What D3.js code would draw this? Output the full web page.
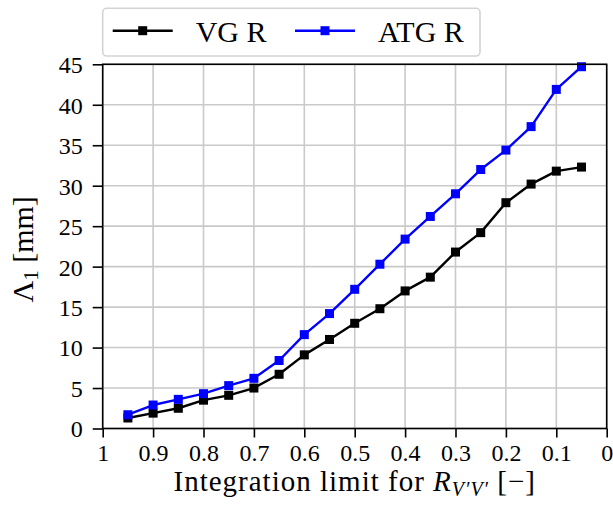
<!DOCTYPE html>
<html>
<head>
<meta charset="utf-8">
<script src="https://cdn.jsdelivr.net/npm/d3@7"></script>
<style>
  body { margin: 0; background: #fff; }
  svg { display: block; font-family: "Liberation Serif", "DejaVu Serif", serif; }
</style>
</head>
<body>
<div id="chart"></div>
<script>
// integration limits (x) and the two series
const limits = [0.95, 0.9, 0.85, 0.8, 0.75, 0.7, 0.65, 0.6, 0.55, 0.5, 0.45, 0.4, 0.35, 0.3, 0.25, 0.2, 0.15, 0.1, 0.05];
const vgR = [1.3, 1.9, 2.5, 3.5, 4.1, 5.0, 6.7, 9.1, 11.0, 13.0, 14.8, 17.0, 18.7, 21.8, 24.2, 27.9, 30.2, 31.8, 32.3];
const atgR = [1.7, 2.9, 3.6, 4.3, 5.3, 6.2, 8.4, 11.6, 14.2, 17.2, 20.3, 23.4, 26.2, 29.0, 32.0, 34.4, 37.3, 41.9, 44.7];
const xTicks = [1, 0.9, 0.8, 0.7, 0.6, 0.5, 0.4, 0.3, 0.2, 0.1, 0];
const yTicks = [0, 5, 10, 15, 20, 25, 30, 35, 40, 45];
const seriesNames = ['VG R', 'ATG R'];
const seriesColors = ['#000000', '#0000ff'];

const width = 613;
const height = 508;
const margin = { top: 64.3, right: 6.3, bottom: 79.5, left: 102.7 };

const svg = d3.select('#chart')
  .append('svg')
  .attr('width', width)
  .attr('height', height);

const xScale = d3.scaleLinear()
  .domain([1, 0])
  .range([margin.left, width - margin.right]);

const yScale = d3.scaleLinear()
  .domain([0, 45])
  .range([height - margin.bottom, margin.top]);

const gridColor = '#c9c9c9';

// gridlines
svg.append('g')
  .selectAll('line')
  .data(xTicks)
  .join('line')
  .attr('x1', d => xScale(d)).attr('x2', d => xScale(d))
  .attr('y1', yScale(0)).attr('y2', yScale(45))
  .attr('stroke', gridColor).attr('stroke-width', 1.6);

svg.append('g')
  .selectAll('line')
  .data(yTicks)
  .join('line')
  .attr('x1', xScale(1)).attr('x2', xScale(0))
  .attr('y1', d => yScale(d)).attr('y2', d => yScale(d))
  .attr('stroke', gridColor).attr('stroke-width', 1.6);

// axes
const xAxis = d3.axisBottom(xScale).tickValues(xTicks).tickSize(9).tickPadding(6)
  .tickFormat(d => String(d));
const yAxis = d3.axisLeft(yScale).tickValues(yTicks).tickSize(10).tickPadding(10)
  .tickFormat(d => String(d));

const gx = svg.append('g')
  .attr('transform', `translate(0, ${yScale(0)})`)
  .call(xAxis);
const gy = svg.append('g')
  .attr('transform', `translate(${xScale(1)}, 0)`)
  .call(yAxis);

[gx, gy].forEach(g => {
  g.select('.domain').remove();
  g.selectAll('.tick line').attr('stroke', '#000').attr('stroke-width', 1.6);
  g.selectAll('.tick text')
    .attr('fill', '#000')
    .style('font-size', '24px')
    .style('font-family', '"Liberation Serif", serif');
});
gy.selectAll('.tick text').attr('dy', '0.35em');

// series
const series = [vgR, atgR];
const line = d3.line()
  .x((d, i) => xScale(limits[i]))
  .y(d => yScale(d));

series.forEach((values, k) => {
  svg.append('path')
    .datum(values)
    .attr('fill', 'none')
    .attr('stroke', seriesColors[k])
    .attr('stroke-width', 2.4)
    .attr('stroke-linejoin', 'round')
    .attr('d', line);

  svg.append('g')
    .selectAll('rect')
    .data(values)
    .join('rect')
    .attr('x', (d, i) => xScale(limits[i]) - 4.5)
    .attr('y', d => yScale(d) - 4.5)
    .attr('width', 9)
    .attr('height', 9)
    .attr('fill', seriesColors[k]);
});

// frame
svg.append('rect')
  .attr('x', xScale(1))
  .attr('y', yScale(45))
  .attr('width', xScale(0) - xScale(1))
  .attr('height', yScale(0) - yScale(45))
  .attr('fill', 'none')
  .attr('stroke', '#000')
  .attr('stroke-width', 1.6);

// legend
const legend = svg.append('g');
legend.append('rect')
  .attr('x', 102.7).attr('y', 8.3)
  .attr('width', 377.3).attr('height', 47.7)
  .attr('rx', 4)
  .attr('fill', '#fff')
  .attr('stroke', '#d3d3d3')
  .attr('stroke-width', 1.6);

const legendX = [112.7, 295];
seriesNames.forEach((name, k) => {
  const x0 = legendX[k];
  legend.append('line')
    .attr('x1', x0).attr('x2', x0 + 60)
    .attr('y1', 30.7).attr('y2', 30.7)
    .attr('stroke', seriesColors[k]).attr('stroke-width', 2.4);
  legend.append('rect')
    .attr('x', x0 + 30 - 4.5).attr('y', 30.7 - 4.5)
    .attr('width', 9).attr('height', 9)
    .attr('fill', seriesColors[k]);
  legend.append('text')
    .attr('x', x0 + 83)
    .attr('y', 41.5)
    .style('font-size', '30px')
    .text(name);
});

// x label
const xl = svg.append('text')
  .attr('x', (xScale(1) + xScale(0)) / 2)
  .attr('y', 491)
  .attr('text-anchor', 'middle')
  .style('font-size', '29px')
  .style('letter-spacing', '1px');
xl.append('tspan').text('Integration limit for ');
xl.append('tspan').style('font-style', 'italic').text('R');
xl.append('tspan').style('font-style', 'italic').style('font-size', '20px')
  .attr('dy', 5).text('V′V′');
xl.append('tspan').attr('dy', -5).text(' [−]');

// y label
const yl = svg.append('text')
  .attr('transform', `translate(33, ${(yScale(0) + yScale(45)) / 2 + 3}) rotate(-90)`)
  .attr('text-anchor', 'middle')
  .style('font-size', '30px');
yl.append('tspan').text('Λ');
yl.append('tspan').style('font-size', '21px').attr('dy', 5).text('1');
yl.append('tspan').attr('dy', -5).text(' [mm]');
</script>
</body>
</html>
